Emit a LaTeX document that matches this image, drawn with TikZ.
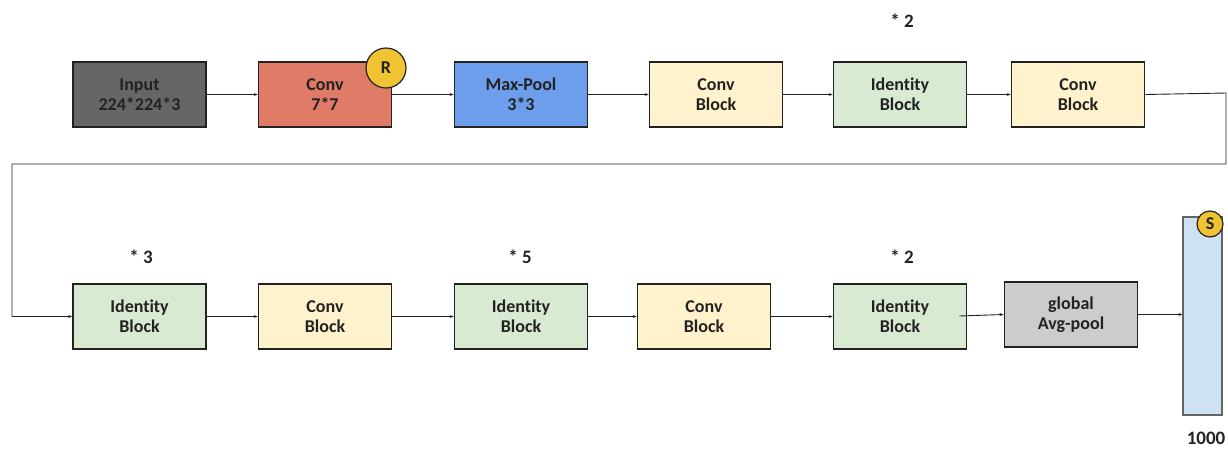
\documentclass[tikz,border=0pt]{standalone}
\usepackage{fontspec}
\setmainfont{Carlito}[Ligatures={NoCommon}]
\usetikzlibrary{arrows.meta}
\definecolor{inputgray}{HTML}{666666}
\definecolor{convred}{HTML}{E07B68}
\definecolor{poolblue}{HTML}{6D9EEB}
\definecolor{convyellow}{HTML}{FFF2CC}
\definecolor{idgreen}{HTML}{D9EAD3}
\definecolor{avggray}{HTML}{CCCCCC}
\definecolor{fcblue}{HTML}{CFE2F3}
\definecolor{badge}{HTML}{F1C232}
\definecolor{ink}{HTML}{222222}
\tikzset{
  blk/.style={draw=ink, line width=1.6pt, minimum width=133pt, minimum height=65pt,
    align=center, font=\fontsize{18}{20}\selectfont\bfseries, text=ink, inner sep=0pt},
  convblk/.style={blk, fill=convyellow},
  idblk/.style={blk, fill=idgreen},
  tag/.style={circle, draw=ink, line width=1.2pt, fill=badge, inner sep=0pt,
    font=\fontsize{18}{20}\selectfont\bfseries, text=ink},
  rep/.style={font=\fontsize{19}{21}\selectfont\bfseries, text=ink},
  link/.style={draw=ink, line width=0.9pt, -{Stealth[length=4pt,width=3pt]}},
}
\begin{document}
\begin{tikzpicture}[x=1pt,y=-1pt]
\useasboundingbox[fill=white] (0,0) rectangle (1228,448);

% first row
\node[blk, fill=inputgray] (inp) at (139.5,94.5) {Input\\224*224*3};
\node[blk, fill=convred] (c7) at (325,94.5) {Conv\\7*7};
\node[blk, fill=poolblue] (mp) at (521,94.5) {Max-Pool\\3*3};
\node[convblk] (cb1) at (716,94.5) {Conv\\Block};
\node[idblk] (id1) at (900,94.5) {Identity\\Block};
\node[convblk] (cb2) at (1078,94.5) {Conv\\Block};
\node[tag, minimum size=40pt] (r) at (386,68) {R};
\node[rep] (rep1) at (902,21) {* 2};

% second row
\node[idblk] (id2) at (139.5,316.5) {Identity\\Block};
\node[convblk] (cb3) at (325,316.5) {Conv\\Block};
\node[idblk] (id3) at (521,316.5) {Identity\\Block};
\node[convblk] (cb4) at (704,316.5) {Conv\\Block};
\node[idblk] (id4) at (900,316.5) {Identity\\Block};
\node[blk, fill=avggray] (avg) at (1071,314.5) {global\\Avg-pool};
\node[rep] (rep3) at (141,257) {* 3};
\node[rep] (rep5) at (520,257) {* 5};
\node[rep] (rep2) at (902,257) {* 2};

% fully connected output
\node[draw=ink!70, line width=1.2pt, fill=fcblue, minimum width=39pt, minimum height=198pt,
  inner sep=0pt] (fc) at (1202.5,316) {};
\node[tag, minimum size=26pt] (s) at (1210,224) {S};
\node[rep] (n1000) at (1206,438) {1000};

% wrap-around corner points
\coordinate (w1) at (1226,93);
\coordinate (w2) at (1226,164);
\coordinate (w3) at (12,164);
\coordinate (w4) at (12,316.5);

% connectors
\draw[link] (inp) -- (c7);
\draw[link] (c7) -- (mp);
\draw[link] (mp) -- (cb1);
\draw[link] (cb1) -- (id1);
\draw[link] (id1) -- (cb2);
\draw[draw=ink, line width=0.9pt] (cb2.east) -- (w1) -- (w2) -- (w3) -- (w4);
\draw[link] (w4) -- (id2.west);
\draw[link] (id2) -- (cb3);
\draw[link] (cb3) -- (id3);
\draw[link] (id3) -- (cb4);
\draw[link] (cb4) -- (id4);
\draw[link] ([xshift=-8pt,yshift=0.5pt]id4.east) -- (avg.west);
\draw[link] (avg.east) -- (fc.west |- avg.east);
\end{tikzpicture}
\end{document}
